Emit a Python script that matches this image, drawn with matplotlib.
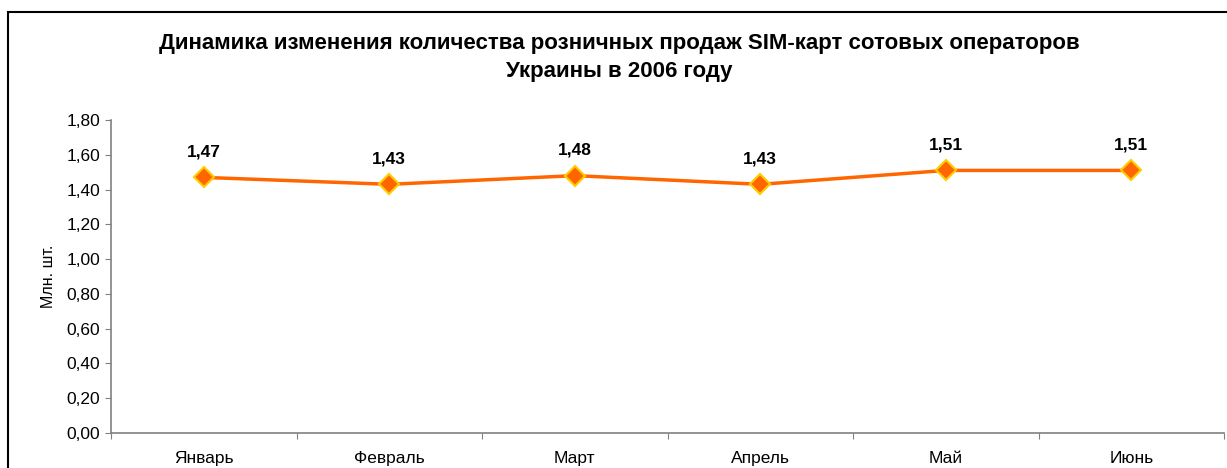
import matplotlib.pyplot as plt
from matplotlib.patches import Rectangle

months = ['Январь', 'Февраль', 'Март', 'Апрель', 'Май', 'Июнь']
sales = [1.47, 1.43, 1.48, 1.43, 1.51, 1.51]
y_ticks = [0.0, 0.2, 0.4, 0.6, 0.8, 1.0, 1.2, 1.4, 1.6, 1.8]

plt.rcParams['font.family'] = ['Liberation Sans', 'DejaVu Sans']

fig = plt.figure(figsize=(12.27, 4.68), dpi=100)
ax = fig.add_axes([0.0905, 0.0748, 0.9071, 0.6688])

x = list(range(len(months)))
ax.plot(x, sales, color='#FF6600', linewidth=2.5, marker='D', markersize=10,
        markerfacecolor='#FF6600', markeredgecolor='#FFCC00', markeredgewidth=1.5,
        zorder=3, clip_on=False)
for xi, v in zip(x, sales):
    ax.annotate(f'{v:.2f}'.replace('.', ','), (xi, v), xytext=(0, 13),
                textcoords='offset points', ha='center', va='bottom',
                fontsize=12.5, fontweight='bold')

ax.set_xlim(-0.5, len(months) - 0.5)
ax.set_ylim(0, 1.8)
ax.set_yticks(y_ticks)
ax.set_yticklabels([f'{t:.2f}'.replace('.', ',') for t in y_ticks], fontsize=12.5)

# category boundaries as ticks, labels centered between
ax.set_xticks([i - 0.5 for i in range(len(months) + 1)])
ax.set_xticklabels([])
ax.set_xticks(x, minor=True)
ax.set_xticklabels(months, minor=True, fontsize=12.5)
ax.tick_params(axis='x', which='minor', length=0, pad=13)
ax.tick_params(axis='x', which='major', length=4, color='#808080')
ax.tick_params(axis='y', length=4, color='#808080', pad=4)

for s in ['top', 'right']:
    ax.spines[s].set_visible(False)
for s in ['left', 'bottom']:
    ax.spines[s].set_color('#808080')
    ax.spines[s].set_linewidth(1.2)

ax.set_ylabel('Млн. шт.', fontsize=11.5, labelpad=7)

fig.text(0.505, 0.908, 'Динамика изменения количества розничных продаж SIM-карт сотовых операторов',
         ha='center', va='center', fontsize=16, fontweight='bold')
fig.text(0.505, 0.848, 'Украины в 2006 году',
         ha='center', va='center', fontsize=16, fontweight='bold')

fig.patches.append(Rectangle((8 / 1227, -0.1), 1.2, 0.1 + 1 - 12 / 468,
                             transform=fig.transFigure, fill=False,
                             edgecolor='black', linewidth=1.5))

fig.savefig('out.png', dpi=100)
